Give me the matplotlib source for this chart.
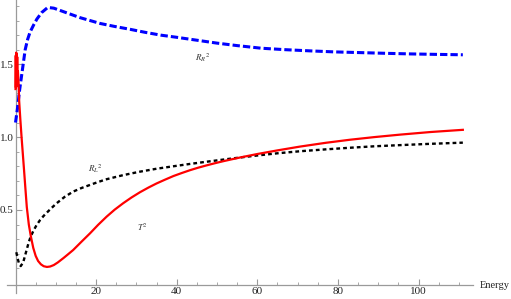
import matplotlib
matplotlib.use("Agg")
import matplotlib.pyplot as plt

plt.rcParams['font.family'] = ['Liberation Serif', 'DejaVu Serif']
plt.rcParams['mathtext.fontset'] = 'stix'

# R_R^2 (blue dashed)
rr_x = [0.0, 0.5, 1.0, 1.5, 2.0, 2.4, 3.0, 3.6, 4.5, 5.3, 6.5, 8.0, 9.5, 11.0, 13.5, 16.0, 18.5, 21.0, 24.5, 28.4, 32.0, 36.0, 40.0, 45.0, 50.0, 55.0, 61.0, 67.0, 73.0, 79.0, 85.5, 92.0, 98.0, 104.0, 111.0]
rr_y = [1.10, 1.20, 1.32, 1.42, 1.52, 1.60, 1.67, 1.72, 1.77, 1.81, 1.855, 1.89, 1.885, 1.87, 1.845, 1.82, 1.80, 1.78, 1.76, 1.74, 1.72, 1.70, 1.685, 1.665, 1.645, 1.628, 1.61, 1.60, 1.592, 1.585, 1.58, 1.575, 1.571, 1.568, 1.565]

# T^2 (red solid)
t_x = [0.0, 0.06, 0.12, 0.18, 0.24, 0.30, 0.36, 0.42, 0.50, 0.60, 0.75, 0.9, 1.2, 1.5, 1.8, 2.1, 2.5, 2.8, 3.3, 3.8, 4.4, 5.0, 5.6, 6.3, 7.0, 7.8, 8.6, 9.5, 10.5, 11.9, 13.0, 14.3, 16.4, 18.5, 20.5, 22.6, 24.6, 26.7, 28.8, 30.9, 33.0, 35.0, 37.1, 39.2, 41.3, 43.3, 45.3, 47.4, 49.5, 51.6, 53.7, 55.7, 60.0, 65.0, 70.6, 77.0, 83.0, 89.0, 95.4, 103.0, 111.0]
t_y = [1.33, 1.56, 1.34, 1.58, 1.35, 1.57, 1.37, 1.55, 1.40, 1.45, 1.38, 1.25, 1.12, 1.0, 0.89, 0.78, 0.63, 0.52, 0.40, 0.32, 0.24, 0.185, 0.15, 0.127, 0.114, 0.109, 0.112, 0.122, 0.14, 0.17, 0.195, 0.225, 0.283, 0.34, 0.398, 0.454, 0.502, 0.546, 0.586, 0.622, 0.654, 0.682, 0.708, 0.733, 0.754, 0.773, 0.790, 0.806, 0.821, 0.835, 0.848, 0.860, 0.884, 0.909, 0.935, 0.961, 0.982, 1.0, 1.017, 1.035, 1.05]

# R_L^2 (black dotted)
rl_x = [0.2, 0.5, 0.9, 1.3, 1.9, 2.3, 2.8, 3.3, 3.8, 4.5, 5.2, 6.1, 7.0, 8.0, 9.0, 10.2, 12.2, 14.3, 16.4, 18.5, 20.5, 22.6, 26.7, 30.9, 35.0, 39.2, 43.3, 47.4, 51.6, 55.7, 60.0, 65.0, 70.6, 77.0, 83.0, 89.0, 95.4, 103.0, 111.0]
rl_y = [0.21, 0.17, 0.13, 0.115, 0.14, 0.18, 0.23, 0.28, 0.32, 0.36, 0.395, 0.431, 0.46, 0.488, 0.515, 0.546, 0.59, 0.626, 0.651, 0.672, 0.692, 0.711, 0.739, 0.763, 0.783, 0.800, 0.816, 0.831, 0.846, 0.860, 0.874, 0.889, 0.903, 0.916, 0.927, 0.937, 0.945, 0.954, 0.962]

label_text = [r'$R_R{}^2$', r'$R_L{}^2$', r'$T^2$']
label_x = [46.3, 19.7, 31.6]
label_y = [1.544, 0.78, 0.38]

x_major_ticks = [20, 40, 60, 80, 100]
x_minor_ticks = [5, 10, 15, 25, 30, 35, 45, 50, 55, 65, 70, 75, 85, 90, 95, 105, 110]
y_major_ticks = [0.5, 1.0, 1.5]
y_major_labels = ['0.5', '1.0', '1.5']
y_minor_ticks = [0.1, 0.2, 0.3, 0.4, 0.6, 0.7, 0.8, 0.9, 1.1, 1.2, 1.3, 1.4, 1.6, 1.7, 1.8, 1.9]

fig = plt.figure(figsize=(5.11, 2.99), dpi=100)
ax = fig.add_axes([0, 0, 1, 1])
ax.set_xlim(-3.85, 122.95)
ax.set_ylim(-0.111, 1.941)

axis_y = -0.015
ax.plot(rr_x, rr_y, color=(0, 0, 1), lw=2.2, dashes=(2.4, 1.0), dash_capstyle='butt', zorder=3)
ax.plot(t_x, t_y, color=(1, 0, 0), lw=1.6, zorder=4)
ax.plot(rl_x, rl_y, color='black', lw=1.7, dashes=(1.6, 1.3), dash_capstyle='butt', zorder=3)

for s, x, y in zip(label_text, label_x, label_y):
    ax.text(x, y, s, fontsize=6.5, color='#333333', ha='center', va='center')

for side in ['top', 'right']:
    ax.spines[side].set_visible(False)
ax.spines['left'].set_position(('data', 0))
ax.spines['bottom'].set_position(('data', axis_y))
ax.spines['left'].set_bounds(-0.07, 1.941)
ax.spines['bottom'].set_bounds(-2.1, 113.5)
for side in ['left', 'bottom']:
    ax.spines[side].set_color('#9a9a9a')
    ax.spines[side].set_linewidth(0.9)

ax.set_xticks(x_major_ticks)
ax.set_xticks(x_minor_ticks, minor=True)
ax.set_yticks(y_major_ticks)
ax.set_yticks(y_minor_ticks, minor=True)
ax.set_yticklabels(y_major_labels)
ax.tick_params(which='both', direction='in', color='#9a9a9a', labelsize=8, labelcolor='#222222')
ax.tick_params(which='major', length=4, width=0.8)
ax.tick_params(which='minor', length=2.5, width=0.6)
ax.tick_params(axis='x', pad=1.5)
ax.tick_params(axis='y', pad=1.5)

ax.text(115.3, axis_y, 'Energy', fontsize=7.5, color='#222222', ha='left', va='center')

fig.savefig('out.png', dpi=100)
